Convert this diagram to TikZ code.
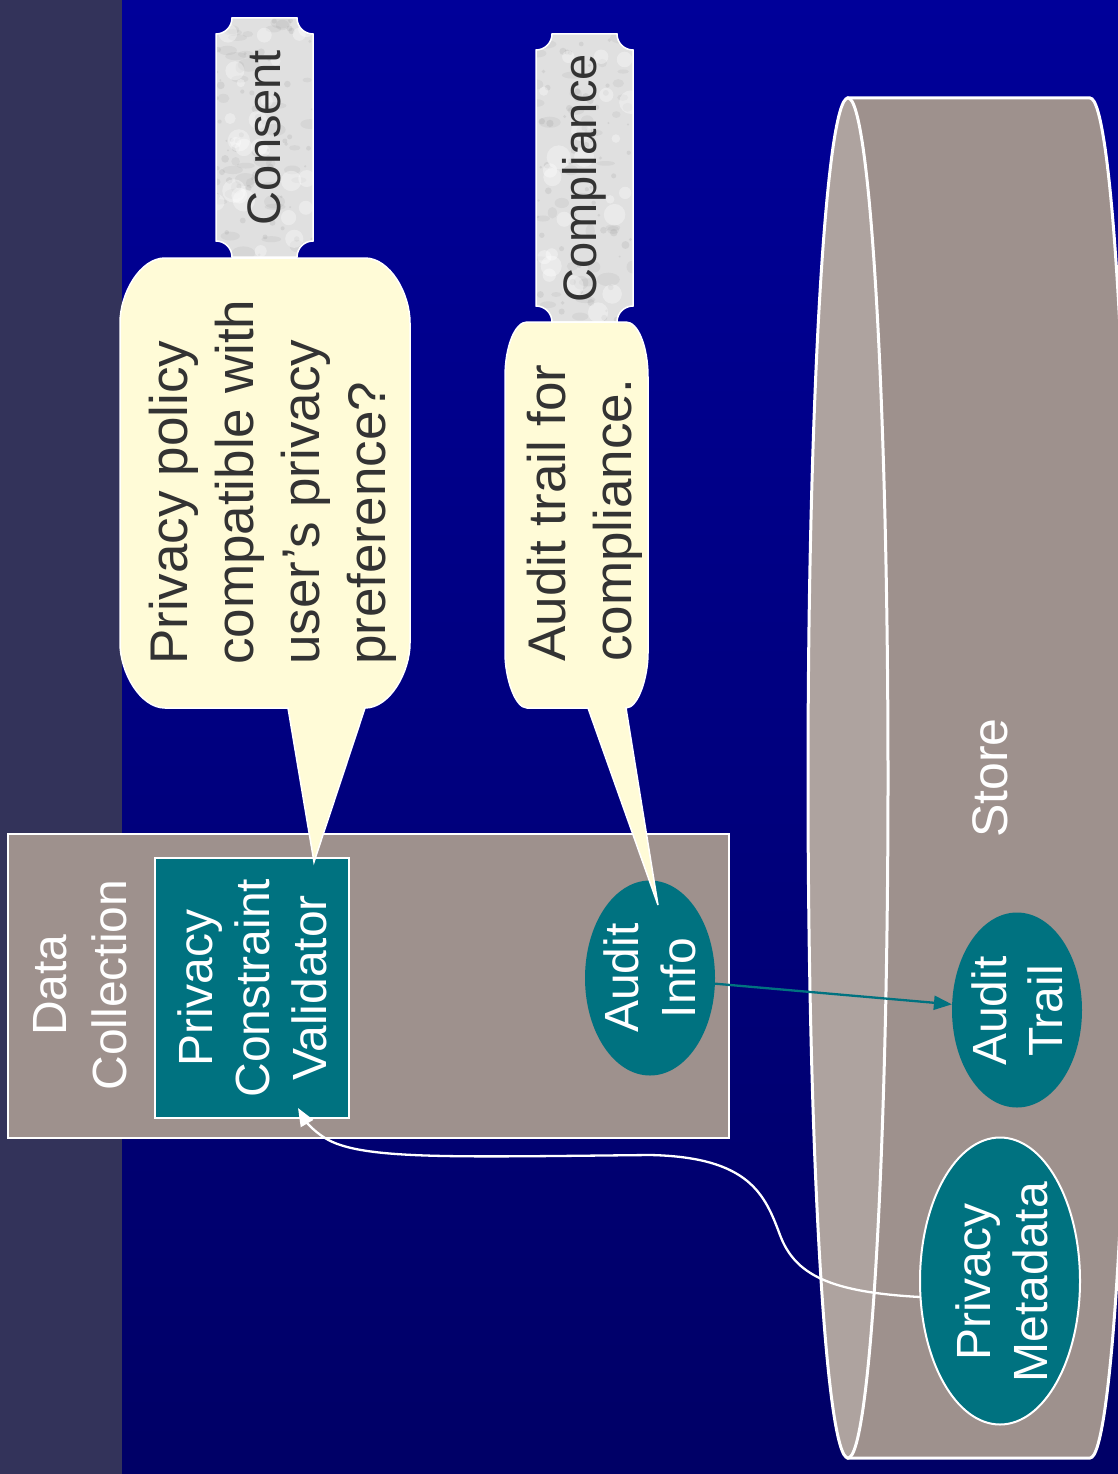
\documentclass[tikz,border=0pt]{standalone}
\usepackage{fontspec}
\setmainfont{Liberation Sans}
\usetikzlibrary{arrows.meta,calc,shapes.geometric}

\definecolor{navytop}{RGB}{0,0,153}
\definecolor{navybot}{RGB}{0,0,102}
\definecolor{slate}{RGB}{51,51,90}
\definecolor{stone}{RGB}{158,145,141}
\definecolor{stonelight}{RGB}{174,163,159}
\definecolor{tealbox}{RGB}{0,114,128}
\definecolor{cream}{RGB}{255,251,215}
\definecolor{ink}{RGB}{51,51,51}
\definecolor{marble}{RGB}{224,224,224}

\tikzset{
  edge/.style={draw=white, line width=2pt},
  vtext/.style={rotate=90, inner sep=0pt, align=center, text=white},
  bodyfont/.style={font=\fontsize{48}{57}\selectfont},
  callfont/.style={font=\fontsize{53}{66}\selectfont, text=ink, align=left},
  tagfont/.style={font=\fontsize{47}{56}\selectfont, text=ink},
  bubble/.style={fill=cream, draw=white, line width=1.5pt},
  oval/.style={ellipse, fill=tealbox, inner sep=0pt},
  conn/.style={line width=2.3pt, -{Triangle[length=18pt,width=14pt]}},
}

\begin{document}
\begin{tikzpicture}[x=1pt,y=-1pt]
\useasboundingbox (0,0) rectangle (1118,1474);
\clip (0,0) rectangle (1118,1474);

% backdrop
\shade[top color=navytop, bottom color=navybot] (122,0) rectangle (1118,1474);
\fill[slate] (0,0) rectangle (122,1474);

% data collection component
\node[edge, fill=stone, minimum width=721pt, minimum height=304pt, inner sep=0pt]
  (dc) at (368.5,986) {};
\node[vtext, font=\fontsize{48}{60}\selectfont] (dclbl) at (80,985) {Data\\Collection};
\node[vtext, bodyfont, fill=tealbox, draw=white, line width=1.5pt,
      minimum width=260pt, minimum height=194pt]
  (pcv) at (252,988) {Privacy\\Constraint\\Validator};
\node[oval, minimum width=130pt, minimum height=195pt] (ai) at (650,978) {};
\node[vtext, bodyfont] (ailbl) at (650,978) {Audit\\Info};

% store cylinder
\filldraw[fill=stone, draw=white, line width=3pt]
  (848,98) -- (1090,98)
  .. controls (1112,98) and (1130,402.6) .. (1130,778)
  .. controls (1130,1153.4) and (1112,1458) .. (1090,1458)
  -- (848,1458) -- cycle;
\filldraw[fill=stonelight, draw=white, line width=3pt]
  (848,778) circle [x radius=40pt, y radius=680pt];
\node[vtext, font=\fontsize{50}{60}\selectfont] (store) at (990,778) {Store};
\node[oval, minimum width=130pt, minimum height=195pt] (at) at (1017,1010) {};
\node[vtext, font=\fontsize{48}{56}\selectfont] (atlbl) at (1017,1011) {Audit\\Trail};
\node[oval, draw=white, line width=2pt, minimum width=160pt, minimum height=287pt]
  (pm) at (1000,1281) {};
\node[vtext, bodyfont] (pmlbl) at (1002,1282) {Privacy\\Metadata};

% connectors
\draw[conn, tealbox] (ai) -- (at);
\draw[conn, white]
  ($(pm.center)+(-80,16)$)
  .. controls (830,1292) and (795,1275) .. (780,1235)
  .. controls (765,1195) and (750,1157) .. (650,1155)
  .. controls (450,1157) and (360,1160) .. (325,1138)
  .. controls (312,1130) and (305,1120) .. ($(pcv.center)+(46,120)$);

% marble tags
\pgfmathsetseed{11}
\foreach \xa/\ya/\xb/\yb/\nm/\txt in
  {216/18/313/257/consent/Consent, 536/34/633/322/compliance/Compliance}{
  \begin{scope}
    \clip ({\xa+16},\ya) -- ({\xb-16},\ya)
      .. controls ({\xb-16},{\ya+8.8}) and ({\xb-8.8},{\ya+16}) .. (\xb,{\ya+16})
      -- (\xb,{\yb-16})
      .. controls ({\xb-8.8},{\yb-16}) and ({\xb-16},{\yb-8.8}) .. ({\xb-16},\yb)
      -- ({\xa+16},\yb)
      .. controls ({\xa+16},{\yb-8.8}) and ({\xa+8.8},{\yb-16}) .. (\xa,{\yb-16})
      -- (\xa,{\ya+16})
      .. controls ({\xa+8.8},{\ya+16}) and ({\xa+16},{\ya+8.8}) .. cycle;
    \fill[marble] (\xa,\ya) rectangle (\xb,\yb);
    \foreach \i in {1,...,40}{
      \fill[gray, opacity=0.10]
        ({\xa+rnd*(\xb-\xa)},{\ya+rnd*(\yb-\ya)}) ellipse [x radius={4+8*rnd}, y radius={2+5*rnd}];
    }
    \foreach \i in {1,...,60}{
      \fill[gray, opacity=0.14]
        ({\xa+rnd*(\xb-\xa)},{\ya+rnd*(\yb-\ya)}) circle [radius={1+3*rnd}];
    }
    \foreach \i in {1,...,25}{
      \fill[white, opacity=0.35]
        ({\xa+rnd*(\xb-\xa)},{\ya+rnd*(\yb-\ya)}) circle [radius={4+8*rnd}];
    }
  \end{scope}
  \draw[white, line width=1.5pt]
    ({\xa+16},\ya) -- ({\xb-16},\ya)
    .. controls ({\xb-16},{\ya+8.8}) and ({\xb-8.8},{\ya+16}) .. (\xb,{\ya+16})
    -- (\xb,{\yb-16})
    .. controls ({\xb-8.8},{\yb-16}) and ({\xb-16},{\yb-8.8}) .. ({\xb-16},\yb)
    -- ({\xa+16},\yb)
    .. controls ({\xa+16},{\yb-8.8}) and ({\xa+8.8},{\yb-16}) .. (\xa,{\yb-16})
    -- (\xa,{\ya+16})
    .. controls ({\xa+8.8},{\ya+16}) and ({\xa+16},{\ya+8.8}) .. cycle;
  \node[vtext, tagfont] (\nm) at ({(\xa+\xb)/2},{(\ya+\yb)/2}) {\txt};
}

% speech bubbles
\path[bubble]
  (288,708) -- ($(pcv.center)+(62,-126)$) -- (365,708)
  .. controls (389.8,708) and (410,672.1) .. (410,643)
  -- (410,323)
  .. controls (410,293.1) and (389.8,258) .. (365,258)
  -- (165,258)
  .. controls (140.2,258) and (120,293.1) .. (120,323)
  -- (120,643)
  .. controls (120,672.1) and (140.2,708) .. (165,708) -- cycle;
\node[vtext, callfont, anchor=west] (q1) at (273,665)
  {Privacy policy\\compatible with\\user’s privacy\\preference?};

\path[bubble]
  (588,708) -- ($(ai.center)+(8,-73)$) -- (626,708)
  .. controls (638.1,708) and (648,677.6) .. (648,653)
  -- (648,377)
  .. controls (648,346.6) and (638.1,322) .. (626,322)
  -- (527,322)
  .. controls (514.9,322) and (505,346.6) .. (505,377)
  -- (505,653)
  .. controls (505,677.6) and (514.9,708) .. (527,708) -- cycle;
\node[vtext, callfont, anchor=west] (q2) at (585,662)
  {Audit trail for\\compliance.};
\end{tikzpicture}
\end{document}
